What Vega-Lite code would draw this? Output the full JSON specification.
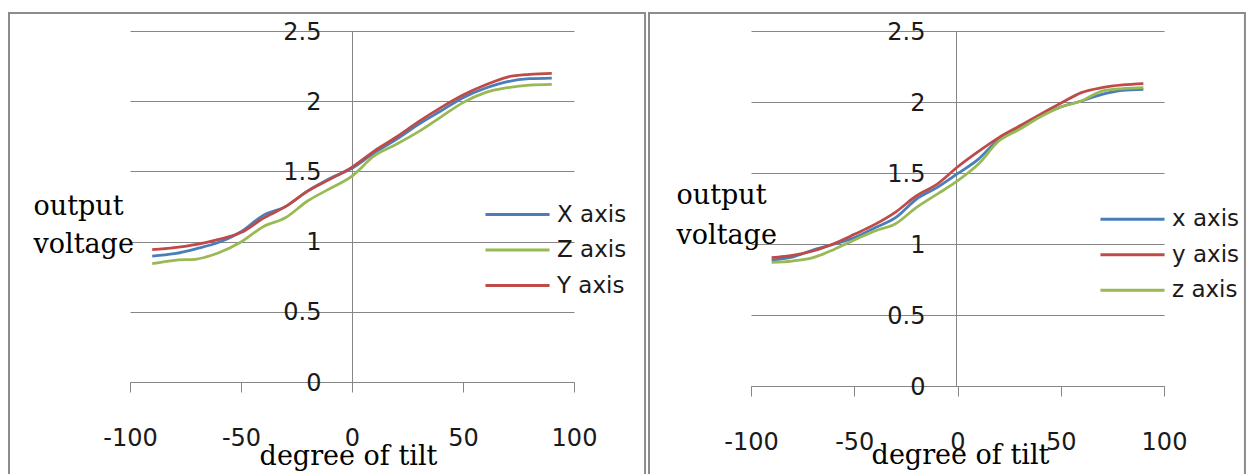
{
  "$schema": "https://vega.github.io/schema/vega-lite/v6.json",
  "background": "white",
  "padding": {"left": 8, "top": 11, "right": 0, "bottom": 0},
  "config": {"view": {"stroke": null}},
  "datasets": {
    "left": [
      {"deg": -90, "v": 0.897, "series": "X axis"}, {"deg": -80, "v": 0.914, "series": "X axis"}, {"deg": -70, "v": 0.95, "series": "X axis"}, {"deg": -60, "v": 0.995, "series": "X axis"}, {"deg": -50, "v": 1.07, "series": "X axis"}, {"deg": -40, "v": 1.187, "series": "X axis"}, {"deg": -30, "v": 1.249, "series": "X axis"}, {"deg": -20, "v": 1.36, "series": "X axis"}, {"deg": -10, "v": 1.45, "series": "X axis"}, {"deg": 0, "v": 1.522, "series": "X axis"}, {"deg": 10, "v": 1.633, "series": "X axis"}, {"deg": 20, "v": 1.728, "series": "X axis"}, {"deg": 30, "v": 1.835, "series": "X axis"}, {"deg": 40, "v": 1.93, "series": "X axis"}, {"deg": 50, "v": 2.025, "series": "X axis"}, {"deg": 60, "v": 2.092, "series": "X axis"}, {"deg": 70, "v": 2.139, "series": "X axis"}, {"deg": 80, "v": 2.16, "series": "X axis"}, {"deg": 90, "v": 2.165, "series": "X axis"},
      {"deg": -90, "v": 0.843, "series": "Z axis"}, {"deg": -80, "v": 0.867, "series": "Z axis"}, {"deg": -70, "v": 0.876, "series": "Z axis"}, {"deg": -60, "v": 0.921, "series": "Z axis"}, {"deg": -50, "v": 0.997, "series": "Z axis"}, {"deg": -40, "v": 1.106, "series": "Z axis"}, {"deg": -30, "v": 1.17, "series": "Z axis"}, {"deg": -20, "v": 1.289, "series": "Z axis"}, {"deg": -10, "v": 1.377, "series": "Z axis"}, {"deg": 0, "v": 1.467, "series": "Z axis"}, {"deg": 10, "v": 1.61, "series": "Z axis"}, {"deg": 20, "v": 1.693, "series": "Z axis"}, {"deg": 30, "v": 1.783, "series": "Z axis"}, {"deg": 40, "v": 1.887, "series": "Z axis"}, {"deg": 50, "v": 1.99, "series": "Z axis"}, {"deg": 60, "v": 2.061, "series": "Z axis"}, {"deg": 70, "v": 2.096, "series": "Z axis"}, {"deg": 80, "v": 2.115, "series": "Z axis"}, {"deg": 90, "v": 2.12, "series": "Z axis"},
      {"deg": -90, "v": 0.943, "series": "Y axis"}, {"deg": -80, "v": 0.957, "series": "Y axis"}, {"deg": -70, "v": 0.98, "series": "Y axis"}, {"deg": -60, "v": 1.016, "series": "Y axis"}, {"deg": -50, "v": 1.064, "series": "Y axis"}, {"deg": -40, "v": 1.166, "series": "Y axis"}, {"deg": -30, "v": 1.249, "series": "Y axis"}, {"deg": -20, "v": 1.36, "series": "Y axis"}, {"deg": -10, "v": 1.443, "series": "Y axis"}, {"deg": 0, "v": 1.531, "series": "Y axis"}, {"deg": 10, "v": 1.645, "series": "Y axis"}, {"deg": 20, "v": 1.745, "series": "Y axis"}, {"deg": 30, "v": 1.854, "series": "Y axis"}, {"deg": 40, "v": 1.954, "series": "Y axis"}, {"deg": 50, "v": 2.044, "series": "Y axis"}, {"deg": 60, "v": 2.115, "series": "Y axis"}, {"deg": 70, "v": 2.172, "series": "Y axis"}, {"deg": 80, "v": 2.191, "series": "Y axis"}, {"deg": 90, "v": 2.198, "series": "Y axis"}
    ],
    "right": [
      {"deg": -90, "v": 0.887, "series": "x axis"}, {"deg": -80, "v": 0.908, "series": "x axis"}, {"deg": -70, "v": 0.958, "series": "x axis"}, {"deg": -60, "v": 0.998, "series": "x axis"}, {"deg": -50, "v": 1.045, "series": "x axis"}, {"deg": -40, "v": 1.115, "series": "x axis"}, {"deg": -30, "v": 1.185, "series": "x axis"}, {"deg": -20, "v": 1.315, "series": "x axis"}, {"deg": -10, "v": 1.397, "series": "x axis"}, {"deg": 0, "v": 1.495, "series": "x axis"}, {"deg": 10, "v": 1.596, "series": "x axis"}, {"deg": 20, "v": 1.737, "series": "x axis"}, {"deg": 30, "v": 1.819, "series": "x axis"}, {"deg": 40, "v": 1.901, "series": "x axis"}, {"deg": 50, "v": 1.965, "series": "x axis"}, {"deg": 60, "v": 2.007, "series": "x axis"}, {"deg": 70, "v": 2.054, "series": "x axis"}, {"deg": 80, "v": 2.082, "series": "x axis"}, {"deg": 90, "v": 2.089, "series": "x axis"},
      {"deg": -90, "v": 0.904, "series": "y axis"}, {"deg": -80, "v": 0.92, "series": "y axis"}, {"deg": -70, "v": 0.951, "series": "y axis"}, {"deg": -60, "v": 1.002, "series": "y axis"}, {"deg": -50, "v": 1.068, "series": "y axis"}, {"deg": -40, "v": 1.138, "series": "y axis"}, {"deg": -30, "v": 1.225, "series": "y axis"}, {"deg": -20, "v": 1.338, "series": "y axis"}, {"deg": -10, "v": 1.42, "series": "y axis"}, {"deg": 0, "v": 1.542, "series": "y axis"}, {"deg": 10, "v": 1.65, "series": "y axis"}, {"deg": 20, "v": 1.749, "series": "y axis"}, {"deg": 30, "v": 1.831, "series": "y axis"}, {"deg": 40, "v": 1.913, "series": "y axis"}, {"deg": 50, "v": 1.991, "series": "y axis"}, {"deg": 60, "v": 2.066, "series": "y axis"}, {"deg": 70, "v": 2.101, "series": "y axis"}, {"deg": 80, "v": 2.12, "series": "y axis"}, {"deg": 90, "v": 2.129, "series": "y axis"},
      {"deg": -90, "v": 0.871, "series": "z axis"}, {"deg": -80, "v": 0.88, "series": "z axis"}, {"deg": -70, "v": 0.904, "series": "z axis"}, {"deg": -60, "v": 0.96, "series": "z axis"}, {"deg": -50, "v": 1.028, "series": "z axis"}, {"deg": -40, "v": 1.092, "series": "z axis"}, {"deg": -30, "v": 1.143, "series": "z axis"}, {"deg": -20, "v": 1.256, "series": "z axis"}, {"deg": -10, "v": 1.35, "series": "z axis"}, {"deg": 0, "v": 1.444, "series": "z axis"}, {"deg": 10, "v": 1.561, "series": "z axis"}, {"deg": 20, "v": 1.725, "series": "z axis"}, {"deg": 30, "v": 1.808, "series": "z axis"}, {"deg": 40, "v": 1.894, "series": "z axis"}, {"deg": 50, "v": 1.965, "series": "z axis"}, {"deg": 60, "v": 2.007, "series": "z axis"}, {"deg": 70, "v": 2.077, "series": "z axis"}, {"deg": 80, "v": 2.094, "series": "z axis"}, {"deg": 90, "v": 2.101, "series": "z axis"}
    ]
  },
  "bounds": "flush",
  "spacing": 177,
  "resolve": {"scale": {"color": "independent"}, "legend": {"color": "independent"}},
  "hconcat": [
    {
      "width": 444,
      "height": 351,
      "layer": [
        {
          "data": {"values": [{}]},
          "mark": {"type": "rect", "filled": false, "stroke": "#8c8c8c", "strokeWidth": 2, "clip": false},
          "encoding": {
            "x": {"datum": -154.5, "type": "quantitative", "scale": {"domain": [-100, 100], "nice": false, "zero": false}},
            "x2": {"datum": 132},
            "y": {"datum": 2.628, "type": "quantitative", "scale": {"domain": [0, 2.5], "nice": false}},
            "y2": {"datum": -0.8}
          }
        },
        {
          "data": {"name": "left"},
          "mark": {"type": "line", "strokeWidth": 2.75, "interpolate": "monotone"},
          "encoding": {
            "x": {
              "field": "deg", "type": "quantitative",
              "scale": {"domain": [-100, 100], "nice": false, "zero": false},
              "axis": {
                "values": [-100, -50, 0, 50, 100], "labelExpr": "'' + datum.value", "labelFlush": false,
                "grid": false, "domainColor": "#868686", "tickColor": "#868686", "tickSize": 10,
                "labelFont": "DejaVu Sans", "labelFontSize": 24, "labelColor": "#1a1a1a", "labelPadding": 34, "labelBaseline": "top",
                "title": "degree of tilt", "titleFont": "DejaVu Serif", "titleFontSize": 27, "titleFontWeight": "normal", "titleColor": "#000000",
                "titleBaseline": "alphabetic", "titleX": 218, "titleY": 82, "titleAnchor": "middle", "titleAlign": "center"
              }
            },
            "y": {
              "field": "v", "type": "quantitative",
              "scale": {"domain": [0, 2.5], "nice": false},
              "axis": {
                "values": [0, 0.5, 1, 1.5, 2, 2.5], "labelExpr": "'' + datum.value", "labelFlush": false,
                "offset": -222, "ticks": false, "grid": true, "gridColor": "#868686", "gridWidth": 1, "domainColor": "#868686",
                "labelFont": "DejaVu Sans", "labelFontSize": 24, "labelColor": "#1a1a1a", "labelPadding": 31, "labelBaseline": "middle", "labelOffset": 1,
                "title": ["output", "voltage"], "titleFont": "DejaVu Serif", "titleFontSize": 27, "titleFontWeight": "normal", "titleColor": "#000000",
                "titleAngle": 0, "titleAlign": "left", "titleBaseline": "alphabetic", "titleX": -319, "titleY": 183, "titleLineHeight": 38
              }
            },
            "color": {
              "field": "series", "type": "nominal",
              "scale": {"domain": ["X axis", "Z axis", "Y axis"], "range": ["#4a7ebb", "#98b954", "#be4b48"]},
              "legend": {
                "title": null, "orient": "none", "legendX": 374, "legendY": 170, "padding": 0,
                "symbolType": "M-2.67,0H2.67", "symbolSize": 576, "symbolStrokeWidth": 3,
                "labelFont": "DejaVu Sans", "labelFontSize": 23, "labelColor": "#1a1a1a", "labelOffset": 26, "rowPadding": 9.5
              }
            }
          }
        }
      ]
    },
    {
      "width": 413,
      "height": 355,
      "layer": [
        {
          "data": {"values": [{}]},
          "mark": {"type": "rect", "filled": false, "stroke": "#8c8c8c", "strokeWidth": 2, "clip": false},
          "encoding": {
            "x": {"datum": -149.4, "type": "quantitative", "scale": {"domain": [-100, 100], "nice": false, "zero": false}},
            "x2": {"datum": 139.2},
            "y": {"datum": 2.627, "type": "quantitative", "scale": {"domain": [0, 2.5], "nice": false}},
            "y2": {"datum": -0.8}
          }
        },
        {
          "data": {"name": "right"},
          "mark": {"type": "line", "strokeWidth": 2.75, "interpolate": "monotone"},
          "encoding": {
            "x": {
              "field": "deg", "type": "quantitative",
              "scale": {"domain": [-100, 100], "nice": false, "zero": false},
              "axis": {
                "values": [-100, -50, 0, 50, 100], "labelExpr": "'' + datum.value", "labelFlush": false,
                "grid": false, "domainColor": "#868686", "tickColor": "#868686", "tickSize": 10,
                "labelFont": "DejaVu Sans", "labelFontSize": 24, "labelColor": "#1a1a1a", "labelPadding": 34, "labelBaseline": "top",
                "title": "degree of tilt", "titleFont": "DejaVu Serif", "titleFontSize": 27, "titleFontWeight": "normal", "titleColor": "#000000",
                "titleBaseline": "alphabetic", "titleX": 209, "titleY": 77, "titleAnchor": "middle", "titleAlign": "center"
              }
            },
            "y": {
              "field": "v", "type": "quantitative",
              "scale": {"domain": [0, 2.5], "nice": false},
              "axis": {
                "values": [0, 0.5, 1, 1.5, 2, 2.5], "labelExpr": "'' + datum.value", "labelFlush": false,
                "offset": -205, "ticks": false, "grid": true, "gridColor": "#868686", "gridWidth": 1, "domainColor": "#868686",
                "labelFont": "DejaVu Sans", "labelFontSize": 24, "labelColor": "#1a1a1a", "labelPadding": 31, "labelBaseline": "middle", "labelOffset": 1,
                "title": ["output", "voltage"], "titleFont": "DejaVu Serif", "titleFontSize": 27, "titleFontWeight": "normal", "titleColor": "#000000",
                "titleAngle": 0, "titleAlign": "left", "titleBaseline": "alphabetic", "titleX": -280, "titleY": 172, "titleLineHeight": 40
              }
            },
            "color": {
              "field": "series", "type": "nominal",
              "scale": {"domain": ["x axis", "y axis", "z axis"], "range": ["#4a7ebb", "#be4b48", "#98b954"]},
              "legend": {
                "title": null, "orient": "none", "legendX": 368, "legendY": 174.7, "padding": 0,
                "symbolType": "M-2.67,0H2.67", "symbolSize": 576, "symbolStrokeWidth": 3,
                "labelFont": "DejaVu Sans", "labelFontSize": 23, "labelColor": "#1a1a1a", "labelOffset": 26, "rowPadding": 9.5
              }
            }
          }
        }
      ]
    }
  ]
}
